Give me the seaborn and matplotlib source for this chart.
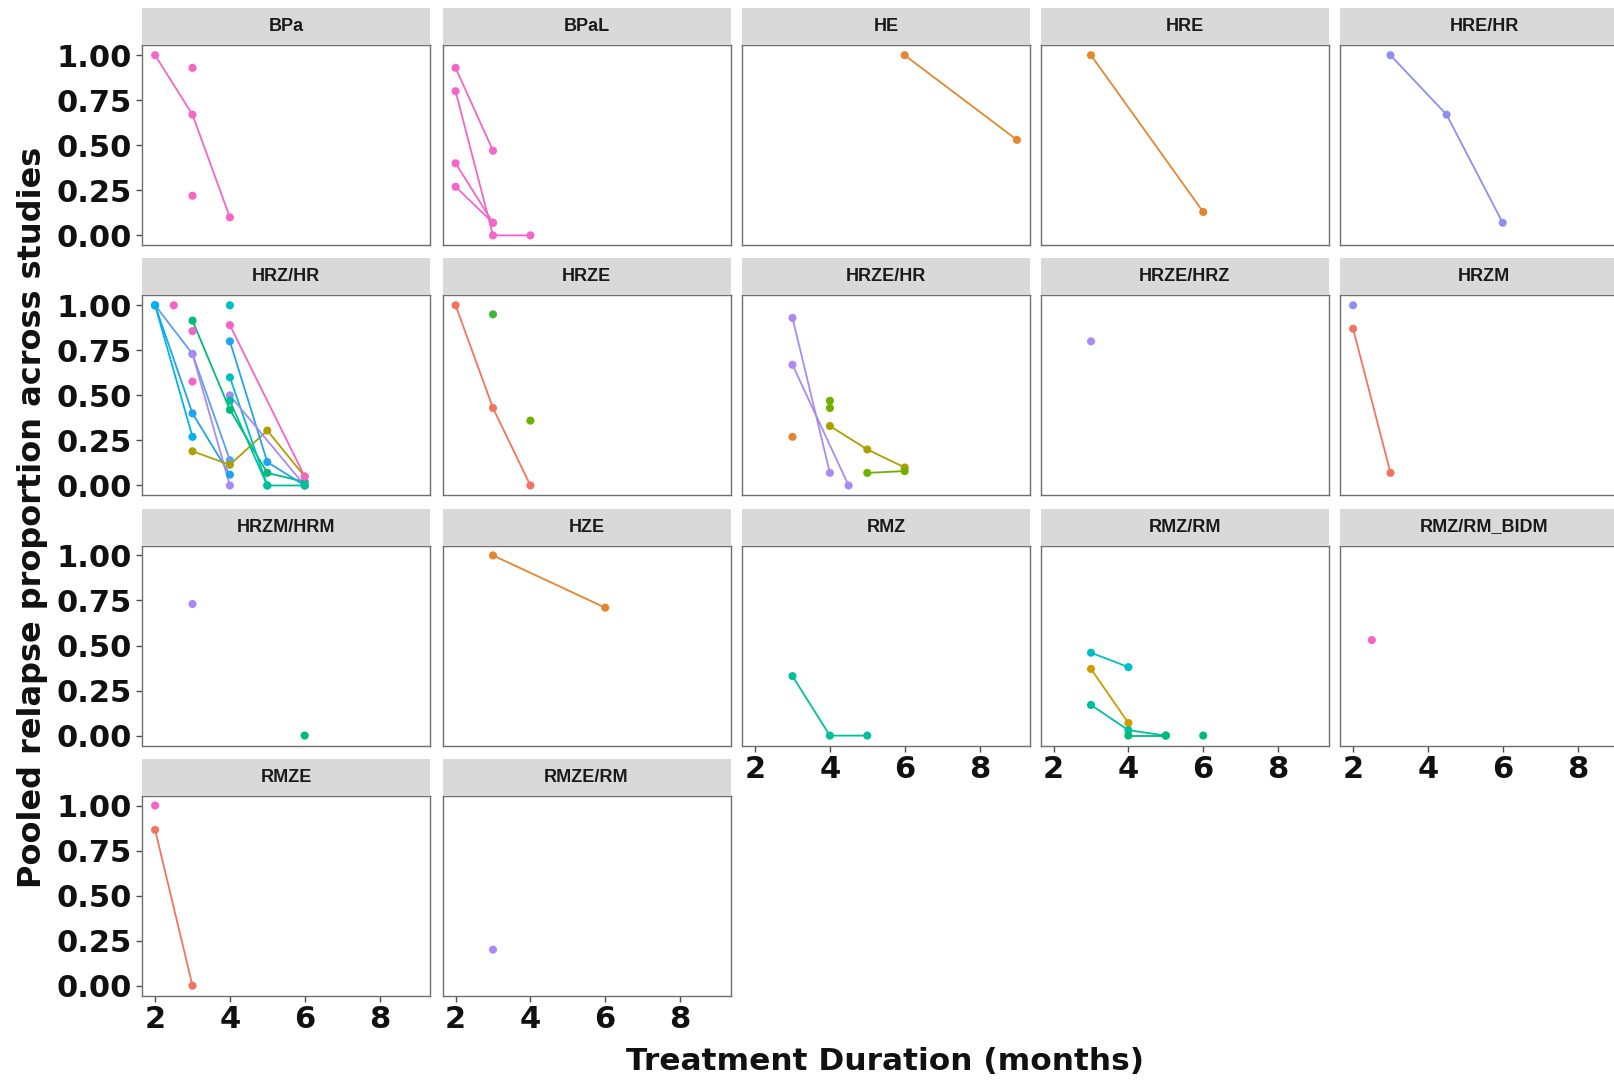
import matplotlib
matplotlib.use("Agg")
import matplotlib.pyplot as plt
import seaborn as sns
import pandas as pd

sns.set_theme(style="white")
plt.rcParams['font.family'] = ['Liberation Sans', 'DejaVu Sans']

# ---------------- data ----------------
PANELS = ["BPa", "BPaL", "HE", "HRE", "HRE/HR",
          "HRZ/HR", "HRZE", "HRZE/HR", "HRZE/HRZ", "HRZM",
          "HRZM/HRM", "HZE", "RMZ", "RMZ/RM", "RMZ/RM_BIDM",
          "RMZE", "RMZE/RM"]

PINK = "#F564C8"
ORANGE = "#E5862E"
SALMON = "#F2735F"
LAVENDER = "#8F8FF2"
PURPLE = "#A98AF5"
BLUE = "#5C9DF5"
BLUE2 = "#1FA4EE"
SKY = "#00B3F0"
TEAL = "#00BFC4"
GREEN = "#00BA7A"
TEALGREEN = "#00BF9A"
GREEN2 = "#3DB83A"
LIME = "#6FB000"
OLIVE = "#B09F00"
GOLD = "#D19A00"

# each series: (color, durations in months, pooled relapse proportions)
BPA = [(PINK, [2, 3, 4], [1.00, 0.67, 0.10]),
       (PINK, [3], [0.93]),
       (PINK, [3], [0.22])]
BPAL = [(PINK, [2, 3], [0.93, 0.47]),
        (PINK, [2, 3, 4], [0.80, 0.00, 0.00]),
        (PINK, [2, 3], [0.40, 0.07]),
        (PINK, [2, 3], [0.27, 0.07])]
HE = [(ORANGE, [6, 9], [1.00, 0.53])]
HRE = [(ORANGE, [3, 6], [1.00, 0.13])]
HRE_HR = [(LAVENDER, [3, 4.5, 6], [1.00, 0.67, 0.07])]
HRZ_HR = [(BLUE, [2, 3, 4], [1.00, 0.73, 0.14]),
          (BLUE2, [2, 3, 4], [1.00, 0.40, 0.06]),
          (SKY, [2, 3], [1.00, 0.27]),
          (PURPLE, [3, 4], [0.73, 0.00]),
          (GREEN, [3, 4, 5, 6], [0.915, 0.42, 0.07, 0.02]),
          (OLIVE, [3, 4, 5, 6], [0.19, 0.115, 0.305, 0.05]),
          (BLUE2, [4, 5, 6], [0.80, 0.13, 0.00]),
          (TEAL, [4, 5], [0.60, 0.00]),
          (PINK, [4, 6], [0.89, 0.05]),
          (TEAL, [4], [1.00]),
          (PINK, [2.5], [1.00]),
          (PINK, [3], [0.857]),
          (PINK, [3], [0.577]),
          (PURPLE, [4, 6], [0.50, 0.00]),
          (TEALGREEN, [4, 5, 6], [0.47, 0.00, 0.00])]
HRZE = [(SALMON, [2, 3, 4], [1.00, 0.43, 0.00]),
        (GREEN2, [3], [0.95]),
        (LIME, [4], [0.36])]
HRZE_HR = [(PURPLE, [3, 4], [0.93, 0.07]),
           (PURPLE, [3, 4.5], [0.67, 0.00]),
           (ORANGE, [3], [0.27]),
           (LIME, [4], [0.47]),
           (LIME, [4], [0.43]),
           (OLIVE, [4, 5, 6], [0.33, 0.20, 0.10]),
           (LIME, [5, 6], [0.07, 0.08])]
HRZE_HRZ = [(PURPLE, [3], [0.80])]
HRZM = [(LAVENDER, [2], [1.00]),
        (SALMON, [2, 3], [0.87, 0.07])]
HRZM_HRM = [(PURPLE, [3], [0.73]),
            (GREEN, [6], [0.00])]
HZE = [(ORANGE, [3, 6], [1.00, 0.71])]
RMZ = [(TEALGREEN, [3, 4, 5], [0.33, 0.00, 0.00])]
RMZ_RM = [(TEAL, [3, 4], [0.46, 0.38]),
          (GOLD, [3, 4], [0.37, 0.07]),
          (TEALGREEN, [3, 4, 5], [0.17, 0.03, 0.00]),
          (GREEN, [4, 5], [0.00, 0.00]),
          (GREEN, [6], [0.00])]
RMZ_RM_BIDM = [(PINK, [2.5], [0.53])]
RMZE = [(PINK, [2], [1.00]),
        (SALMON, [2, 3], [0.865, 0.00])]
RMZE_RM = [(PURPLE, [3], [0.20])]

SERIES = [BPA, BPAL, HE, HRE, HRE_HR, HRZ_HR, HRZE, HRZE_HR, HRZE_HRZ, HRZM,
          HRZM_HRM, HZE, RMZ, RMZ_RM, RMZ_RM_BIDM, RMZE, RMZE_RM]

X_TICKS = [2, 4, 6, 8]
Y_TICKS = [0.0, 0.25, 0.50, 0.75, 1.00]
Y_TICK_LABELS = ["0.00", "0.25", "0.50", "0.75", "1.00"]
X_TITLE = "Treatment Duration (months)"
Y_TITLE = "Pooled relapse proportion across studies"

BIG_FONT = ['DejaVu Sans']

# ---------------- layout ----------------
W, H = 1614, 1081
fig = plt.figure(figsize=(W / 100, H / 100), dpi=100)
fig.patch.set_facecolor("white")

col_left = [142, 442.5, 742, 1040.5, 1340]
row_top = [45.3, 295.4, 545.5, 795.6]
pw, ph, sh = 288, 200, 37

bottom_panels = {12, 13, 14, 15, 16}

for i, name in enumerate(PANELS):
    r, c = divmod(i, 5)
    L, T = col_left[c], row_top[r]
    ax = fig.add_axes([L / W, 1 - (T + ph) / H, pw / W, ph / H])
    sax = fig.add_axes([L / W, 1 - T / H, pw / W, sh / H])
    sax.set_facecolor("#D9D9D9")
    sax.set_xticks([]); sax.set_yticks([])
    for sp in sax.spines.values():
        sp.set_visible(False)
    sax.text(0.5, 0.5, name, ha="center", va="center", fontsize=13,
             fontweight="bold", color="#1A1A1A", transform=sax.transAxes)

    for color, xs, ys in SERIES[i]:
        df = pd.DataFrame({"x": xs, "y": ys})
        if len(xs) > 1:
            sns.lineplot(data=df, x="x", y="y", color=color, ax=ax, lw=1.3,
                         estimator=None, sort=False, zorder=2)
        sns.scatterplot(data=df, x="x", y="y", color=color, ax=ax, s=34,
                        edgecolor="none", zorder=3)

    ax.set_xlim(1.65, 9.35)
    ax.set_ylim(-0.055, 1.055)
    ax.set_xlabel("")
    ax.set_ylabel("")
    ax.set_facecolor("white")
    for sp in ax.spines.values():
        sp.set_color("#6E6E6E")
        sp.set_linewidth(1.0)
    ax.set_xticks(X_TICKS)
    ax.set_yticks(Y_TICKS)
    ax.tick_params(axis="both", which="both", direction="out", length=4,
                   width=1, color="#4D4D4D")
    if c == 0:
        ax.set_yticklabels(Y_TICK_LABELS, fontsize=22, fontweight="bold",
                           color="#111111", family=BIG_FONT)
        ax.tick_params(axis="y", left=True, pad=3.5)
    else:
        ax.set_yticklabels([])
        ax.tick_params(axis="y", left=False)
    if i in bottom_panels:
        ax.set_xticklabels([str(v) for v in X_TICKS], fontsize=22,
                           fontweight="bold", color="#111111", family=BIG_FONT)
        ax.tick_params(axis="x", bottom=True, pad=2.5)
    else:
        ax.set_xticklabels([])
        ax.tick_params(axis="x", bottom=False)

fig.text(33 / W, 1 - 517 / H, Y_TITLE, rotation=90, ha="center", va="center",
         fontsize=23, fontweight="bold", color="#111111", family=BIG_FONT)
fig.text(885 / W, 1 - 1061 / H, X_TITLE, ha="center", va="center",
         fontsize=22.5, fontweight="bold", color="#111111", family=BIG_FONT)

fig.savefig("out.png", dpi=100, facecolor="white")
